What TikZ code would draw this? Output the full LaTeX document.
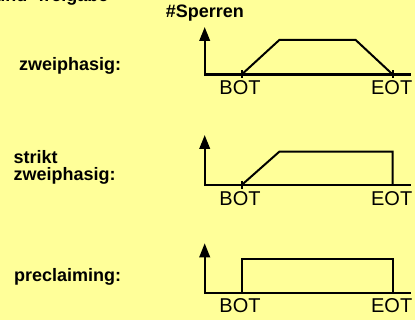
\documentclass[tikz,border=0pt]{standalone}
\usepackage{fontspec}
\setmainfont{Liberation Sans}
\usetikzlibrary{arrows.meta}
\definecolor{paper}{RGB}{255,255,153}
\begin{document}
\begin{tikzpicture}[x=1pt,y=-1pt,
  lbl/.style={font=\bfseries\fontsize{18}{17}\selectfont, anchor=base west, inner sep=0pt},
  evt/.style={font=\fontsize{20}{22}\selectfont, inner sep=0pt},
  axis/.style={line width=2.2pt, line join=miter, {Triangle[length=14pt,width=10.5pt]}-},
  curve/.style={line width=2pt, line join=miter},
  tickmark/.style={line width=1.6pt},
]
\useasboundingbox[fill=paper] (0,0) rectangle (415,320);

% heading (runs past the top edge)
\node[lbl] (title) at (-5.8,2) {und -freigabe};
\node[lbl] (ylab) at (165.7,18) {\#Sperren};

% row labels
\node[lbl] (l1) at (19,70.5) {zweiphasig:};
\node[lbl] (l2a) at (13.3,164) {strikt};
\node[lbl] (l2b) at (13.3,180.7) {zweiphasig:};
\node[lbl] (l3) at (14,281.7) {preclaiming:};

% ---- row 1: zweiphasig
\coordinate (t1) at (204.7,27);
\coordinate (e1) at (410.7,74.5);
\coordinate (b1) at (241.7,74.5);
\coordinate (f1) at (392.7,74.5);
\coordinate (p1) at (279.3,40);
\coordinate (q1) at (355.7,40);
\draw[axis] (t1) |- (e1);
\draw[tickmark] ([yshift=4pt]b1) -- ([yshift=-4pt]b1);
\draw[tickmark] ([yshift=4pt]f1) -- ([yshift=-4pt]f1);
\draw[curve] (b1) -- (p1) -- (q1) -- (f1);
\node[evt] (bot1) at (240,88) {BOT};
\node[evt] (eot1) at (391.7,88) {EOT};

% ---- row 2: strikt zweiphasig
\coordinate (t2) at (204.7,135);
\coordinate (e2) at (410.7,185);
\coordinate (b2) at (241.7,185);
\coordinate (f2) at (392.7,185);
\coordinate (p2) at (279.3,151.7);
\coordinate (q2) at (392.7,151.7);
\draw[axis] (t2) |- (e2);
\draw[tickmark] ([yshift=4pt]b2) -- ([yshift=-4pt]b2);
\draw[curve] (b2) -- (p2) -- (q2) -- (f2);
\node[evt] (bot2) at (240,198.3) {BOT};
\node[evt] (eot2) at (391.7,198.3) {EOT};

% ---- row 3: preclaiming
\coordinate (t3) at (204.7,243.3);
\coordinate (e3) at (410.7,293.3);
\coordinate (b3) at (241.7,293.3);
\coordinate (f3) at (392.7,293.3);
\coordinate (p3) at (241.7,259.3);
\coordinate (q3) at (392.7,259.3);
\draw[axis] (t3) |- (e3);
\draw[curve, line width=2.2pt] (b3) -- (p3) -- (q3) -- (f3);
\node[evt] (bot3) at (240,306) {BOT};
\node[evt] (eot3) at (391.7,306) {EOT};
\end{tikzpicture}
\end{document}
